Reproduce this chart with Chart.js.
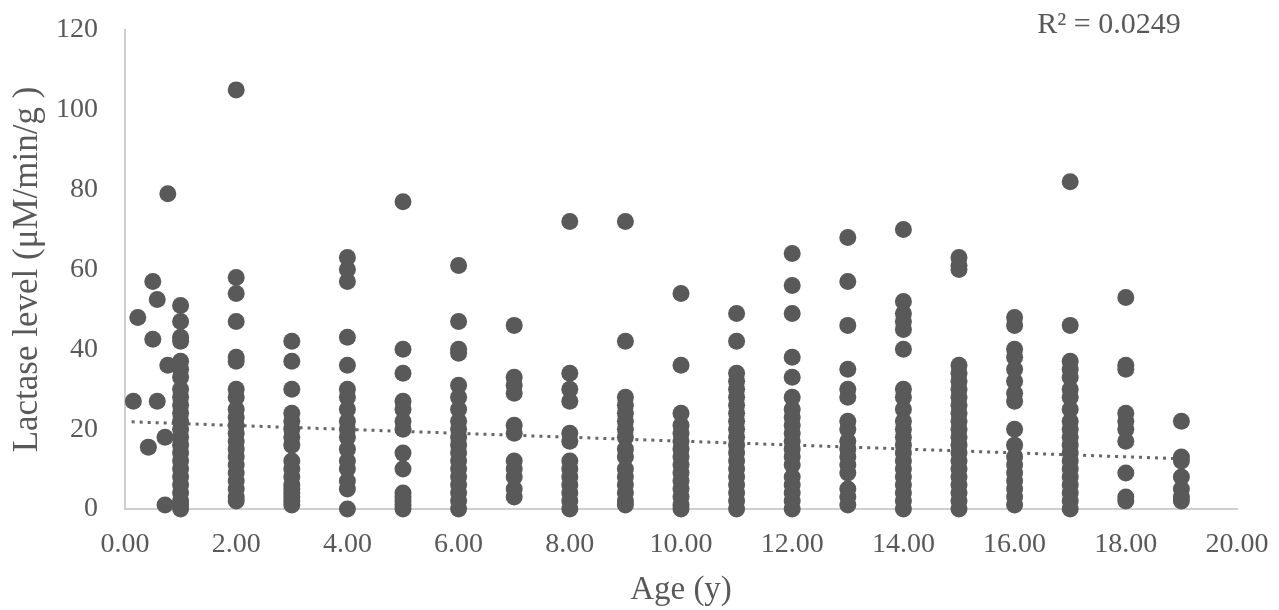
<!DOCTYPE html>
<html>
<head>
<meta charset="utf-8">
<script src="https://cdn.jsdelivr.net/npm/chart.js@4/dist/chart.umd.min.js"></script>
<style>
  html, body { margin: 0; padding: 0; background: #ffffff; }
  #wrap { width: 1279px; height: 610px; position: relative; }
</style>
</head>
<body>
<div id="wrap"><canvas id="chart"></canvas></div>
<script>
// Infants measured at fractional ages (years) and their lactase levels
const infantAges = [0.15, 0.23, 0.42, 0.5, 0.58, 0.5, 0.58, 0.77, 0.72, 0.72, 0.77];
const infantLevels = [27, 48, 15.5, 57, 52.5, 42.5, 27, 79, 18, 1, 36];

// Whole-year ages and the lactase levels recorded at each
const wholeAges = [1, 2, 3, 4, 5, 6, 7, 8, 9, 10, 11, 12, 13, 14, 15, 16, 17, 18, 19];
const levelsByAge = [
  [51, 47, 43, 42, 37, 35, 33, 30, 28, 26, 24, 22, 20, 18, 16, 14, 12, 10, 8, 6, 4, 2, 1, 0],
  [105, 58, 54, 47, 38, 37, 30, 28, 25, 23, 21, 19, 17, 15, 13, 11, 9, 7, 5, 3, 2],
  [42, 37, 30, 24, 22, 20, 18, 16, 12, 10, 8, 6, 5, 4, 3, 2, 1],
  [63, 60, 57, 43, 36, 30, 28, 25, 22, 20, 18, 15, 12, 10, 7, 5, 0],
  [77, 40, 34, 27, 25, 22, 20, 14, 10, 4, 3, 2, 1, 0],
  [61, 47, 40, 39, 31, 28, 25, 22, 20, 18, 16, 14, 12, 10, 8, 6, 4, 2, 0],
  [46, 33, 31, 29, 21, 19, 12, 10, 8, 5, 3],
  [72, 34, 30, 27, 19, 17, 12, 10, 8, 6, 4, 2, 0],
  [72, 42, 28, 26, 24, 22, 20, 18, 15, 13, 10, 8, 6, 4, 2, 1],
  [54, 36, 24, 21, 19, 17, 15, 13, 11, 9, 7, 5, 3, 1, 0],
  [49, 42, 34, 32, 30, 28, 26, 24, 22, 20, 18, 16, 14, 12, 10, 8, 6, 4, 2, 0],
  [64, 56, 49, 38, 33, 28, 25, 23, 21, 19, 17, 15, 13, 11, 8, 6, 4, 2, 0],
  [68, 57, 46, 35, 30, 28, 22, 20, 17, 15, 13, 11, 9, 5, 3, 1],
  [70, 52, 49, 47, 45, 40, 30, 28, 25, 22, 20, 18, 16, 14, 12, 10, 8, 6, 4, 2, 0],
  [63, 61, 60, 36, 34, 32, 30, 28, 26, 24, 22, 20, 18, 16, 14, 12, 10, 8, 6, 4, 2, 0],
  [48, 46, 40, 38, 35, 32, 29, 27, 20, 16, 13, 11, 9, 7, 5, 3, 1],
  [82, 46, 37, 35, 33, 30, 28, 25, 22, 20, 18, 16, 14, 12, 10, 8, 6, 4, 2, 0],
  [53, 36, 35, 24, 22, 20, 17, 9, 3, 2],
  [22, 13, 12, 8, 5, 3, 2]
];

// linear trend as shown in the figure
const trendIntercept = 21.9;
const trendSlope = -0.49;
const trendRange = [0.12, 18.85];

const rSquaredText = "R\u00B2 = 0.0249";
const xTitle = "Age (y)";
const yTitle = "Lactase level (\u03BCM/min/g )";

// build the scatter points
const points = infantAges.map((a, i) => ({ x: a, y: infantLevels[i] }));
wholeAges.forEach((a, i) => {
  levelsByAge[i].forEach((v) => points.push({ x: a, y: v }));
});

const trend = trendRange.map((x) => ({ x: x, y: trendIntercept + trendSlope * x }));

const textColor = "#595959";
const serif = "'Liberation Serif', 'Times New Roman', serif";

// R squared label in the top right corner
const rLabel = {
  id: "rLabel",
  afterDraw(chart) {
    const ctx = chart.ctx;
    ctx.save();
    ctx.fillStyle = textColor;
    ctx.font = "30px " + serif;
    ctx.textAlign = "center";
    ctx.textBaseline = "middle";
    ctx.fillText(rSquaredText, 1109, 25);
    ctx.restore();
  }
};

new Chart(document.getElementById("chart").getContext("2d"), {
  type: "scatter",
  data: {
    datasets: [
      {
        label: "Lactase",
        data: points,
        backgroundColor: "#595959",
        borderColor: "#595959",
        borderWidth: 0,
        pointRadius: 8.5,
        clip: false
      },
      {
        type: "line",
        label: "Trend",
        data: trend,
        borderColor: "#666666",
        borderWidth: 3,
        borderDash: [3, 5],
        pointRadius: 0,
        fill: false
      }
    ]
  },
  options: {
    responsive: true,
    maintainAspectRatio: false,
    animation: false,
    layout: { padding: { top: 30, right: 42, bottom: 0, left: 0 } },
    plugins: {
      legend: { display: false },
      tooltip: { enabled: false }
    },
    scales: {
      x: {
        type: "linear",
        min: 0,
        max: 20,
        grid: { display: false, drawTicks: false },
        border: { display: true, color: "#cfcfcf", width: 2 },
        ticks: {
          stepSize: 2,
          padding: 19,
          color: textColor,
          font: { family: serif, size: 28 },
          callback: (v) => v.toFixed(2),
          maxRotation: 0
        },
        title: {
          display: true,
          text: xTitle,
          color: textColor,
          font: { family: serif, size: 33 },
          padding: { top: 0, bottom: 0 }
        },
        afterFit(scale) {
          scale.height = 101;
          scale.paddingLeft = 0;
          scale.paddingRight = 0;
        }
      },
      y: {
        min: 0,
        max: 120,
        grid: { display: false, drawTicks: false },
        border: { display: true, color: "#cfcfcf", width: 2 },
        ticks: {
          stepSize: 20,
          padding: 27,
          color: textColor,
          font: { family: serif, size: 28 }
        },
        title: {
          display: true,
          text: yTitle,
          color: textColor,
          font: { family: serif, size: 35 },
          padding: { top: 7, bottom: 0 }
        },
        afterFit(scale) {
          scale.width = 125;
          scale.paddingTop = 0;
          scale.paddingBottom = 0;
        }
      }
    }
  },
  plugins: [rLabel]
});
</script>
</body>
</html>
